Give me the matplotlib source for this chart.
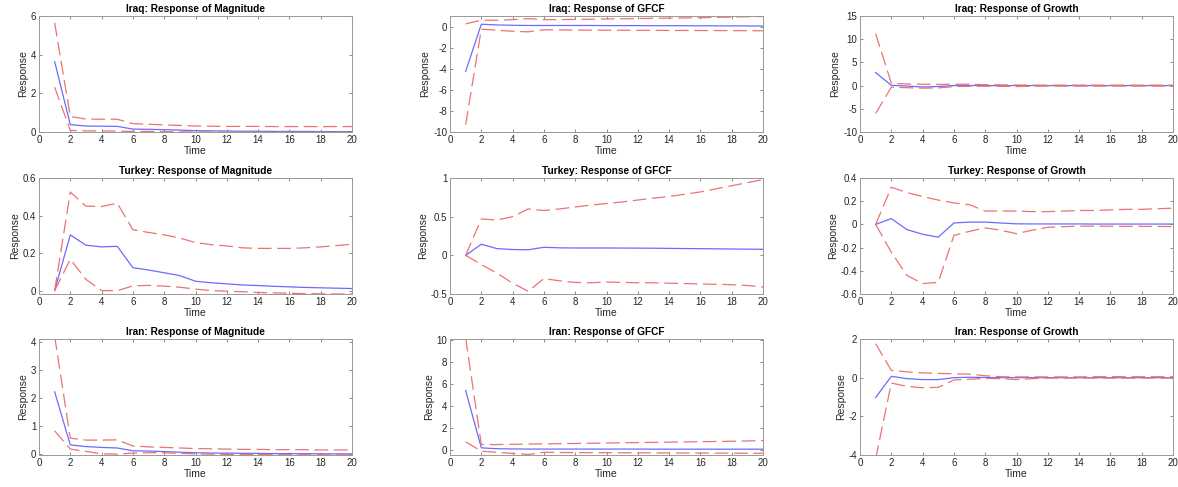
import numpy as np
import matplotlib
matplotlib.use("Agg")
import matplotlib.pyplot as plt
from matplotlib.ticker import FuncFormatter

plt.rcParams['font.family'] = ['Liberation Sans', 'DejaVu Sans']

t = np.arange(1, 21)

# Iraq
iraq_mag = [3.64, 0.38, 0.31, 0.30, 0.29, 0.15, 0.14, 0.12, 0.10, 0.07, 0.06, 0.05, 0.04, 0.04, 0.03, 0.03, 0.03, 0.02, 0.02, 0.02]
iraq_mag_hi = [5.65, 0.80, 0.67, 0.66, 0.66, 0.43, 0.40, 0.37, 0.34, 0.31, 0.30, 0.29, 0.29, 0.29, 0.28, 0.28, 0.28, 0.28, 0.28, 0.28]
iraq_mag_lo = [2.32, 0.08, 0.06, 0.05, 0.05, 0.03, 0.03, 0.02, 0.01, 0.0, 0.0, -0.01, -0.01, -0.01, -0.01, -0.01, -0.01, -0.01, -0.01, -0.01]

iraq_gfcf = [-4.26, 0.22, 0.15, 0.12, 0.10, 0.10, 0.10, 0.10, 0.10, 0.09, 0.09, 0.09, 0.08, 0.08, 0.08, 0.07, 0.07, 0.06, 0.06, 0.05]
iraq_gfcf_hi = [0.25, 0.60, 0.60, 0.65, 0.75, 0.65, 0.66, 0.68, 0.70, 0.72, 0.74, 0.76, 0.78, 0.80, 0.82, 0.84, 0.87, 0.90, 0.93, 0.95]
iraq_gfcf_lo = [-9.3, -0.25, -0.35, -0.45, -0.50, -0.30, -0.32, -0.33, -0.34, -0.35, -0.35, -0.36, -0.36, -0.37, -0.37, -0.38, -0.38, -0.39, -0.39, -0.40]

iraq_gro = [2.8, 0.05, -0.10, -0.30, -0.20, 0.0, 0.02, 0.01, 0.0, 0.0, 0.0, 0.0, 0.0, 0.0, 0.0, 0.0, 0.0, 0.0, 0.0, 0.0]
iraq_gro_hi = [11.2, 0.50, 0.35, 0.30, 0.25, 0.30, 0.30, 0.20, 0.15, 0.12, 0.10, 0.10, 0.10, 0.10, 0.10, 0.10, 0.10, 0.10, 0.10, 0.10]
iraq_gro_lo = [-6.0, -0.35, -0.45, -0.55, -0.50, -0.20, -0.15, -0.12, -0.15, -0.20, -0.15, -0.10, -0.10, -0.10, -0.10, -0.10, -0.10, -0.10, -0.10, -0.10]

# Turkey
tur_mag = [0.0, 0.297, 0.242, 0.233, 0.236, 0.122, 0.11, 0.095, 0.08, 0.05, 0.042, 0.036, 0.03, 0.027, 0.023, 0.02, 0.017, 0.015, 0.013, 0.011]
tur_mag_hi = [0.0, 0.525, 0.45, 0.448, 0.466, 0.324, 0.31, 0.297, 0.28, 0.256, 0.245, 0.238, 0.228, 0.225, 0.225, 0.225, 0.228, 0.233, 0.24, 0.247]
tur_mag_lo = [0.0, 0.167, 0.06, 0.0, 0.0, 0.025, 0.028, 0.024, 0.018, 0.008, 0.0, -0.003, -0.006, -0.01, -0.012, -0.014, -0.016, -0.017, -0.018, -0.018]

tur_gfcf = [0.0, 0.143, 0.087, 0.075, 0.072, 0.104, 0.097, 0.095, 0.095, 0.095, 0.094, 0.093, 0.092, 0.09, 0.088, 0.086, 0.084, 0.082, 0.08, 0.078]
tur_gfcf_hi = [0.0, 0.47, 0.456, 0.50, 0.60, 0.58, 0.60, 0.625, 0.65, 0.67, 0.69, 0.715, 0.74, 0.76, 0.79, 0.82, 0.86, 0.90, 0.94, 0.98]
tur_gfcf_lo = [0.0, -0.12, -0.23, -0.36, -0.465, -0.30, -0.33, -0.35, -0.355, -0.345, -0.35, -0.355, -0.355, -0.36, -0.365, -0.37, -0.375, -0.38, -0.39, -0.41]

tur_gro = [0.0, 0.05, -0.045, -0.085, -0.11, 0.012, 0.02, 0.02, 0.012, 0.005, 0.004, 0.004, 0.004, 0.004, 0.003, 0.003, 0.003, 0.003, 0.003, 0.003]
tur_gro_hi = [0.0, 0.32, 0.275, 0.24, 0.21, 0.185, 0.17, 0.115, 0.115, 0.115, 0.11, 0.11, 0.115, 0.12, 0.12, 0.125, 0.13, 0.13, 0.135, 0.14]
tur_gro_lo = [0.0, -0.24, -0.44, -0.51, -0.50, -0.095, -0.06, -0.03, -0.05, -0.08, -0.05, -0.025, -0.02, -0.015, -0.015, -0.016, -0.017, -0.017, -0.018, -0.018]

# Iran
iran_mag = [2.22, 0.33, 0.27, 0.24, 0.22, 0.12, 0.11, 0.09, 0.07, 0.05, 0.04, 0.035, 0.03, 0.025, 0.02, 0.018, 0.015, 0.012, 0.01, 0.01]
iran_mag_hi = [4.2, 0.57, 0.50, 0.50, 0.51, 0.29, 0.26, 0.24, 0.22, 0.20, 0.19, 0.18, 0.17, 0.17, 0.16, 0.16, 0.16, 0.15, 0.15, 0.15]
iran_mag_lo = [0.83, 0.18, 0.10, 0.01, 0.0, 0.04, 0.05, 0.05, 0.03, 0.01, 0.0, -0.01, -0.01, -0.01, -0.02, -0.02, -0.02, -0.02, -0.02, -0.02]

iran_gfcf = [5.42, 0.20, 0.12, 0.10, 0.09, 0.09, 0.09, 0.09, 0.09, 0.09, 0.09, 0.09, 0.08, 0.08, 0.08, 0.08, 0.08, 0.08, 0.08, 0.08]
iran_gfcf_hi = [10.2, 0.50, 0.50, 0.52, 0.55, 0.56, 0.58, 0.60, 0.62, 0.64, 0.66, 0.68, 0.70, 0.72, 0.74, 0.76, 0.78, 0.80, 0.83, 0.87]
iran_gfcf_lo = [0.75, -0.10, -0.20, -0.30, -0.40, -0.20, -0.22, -0.23, -0.24, -0.24, -0.25, -0.25, -0.26, -0.26, -0.27, -0.27, -0.28, -0.28, -0.29, -0.30]

iran_gro = [-1.03, 0.07, -0.05, -0.10, -0.10, 0.0, 0.02, 0.01, 0.0, 0.0, 0.0, 0.0, 0.0, 0.0, 0.0, 0.0, 0.0, 0.0, 0.0, 0.0]
iran_gro_hi = [1.76, 0.38, 0.30, 0.25, 0.22, 0.20, 0.18, 0.10, 0.05, 0.04, 0.04, 0.04, 0.04, 0.04, 0.05, 0.05, 0.05, 0.05, 0.05, 0.05]
iran_gro_lo = [-4.2, -0.28, -0.45, -0.52, -0.50, -0.12, -0.08, -0.04, -0.05, -0.10, -0.05, -0.02, -0.02, -0.02, -0.02, -0.02, -0.02, -0.02, -0.02, -0.02]

panels = [
    ("Iraq: Response of Magnitude", iraq_mag, iraq_mag_hi, iraq_mag_lo, (0, 6), [0, 2, 4, 6]),
    ("Iraq: Response of GFCF", iraq_gfcf, iraq_gfcf_hi, iraq_gfcf_lo, (-10, 1), [-10, -8, -6, -4, -2, 0]),
    ("Iraq: Response of Growth", iraq_gro, iraq_gro_hi, iraq_gro_lo, (-10, 15), [-10, -5, 0, 5, 10, 15]),
    ("Turkey: Response of Magnitude", tur_mag, tur_mag_hi, tur_mag_lo, (-0.018, 0.6), [0, 0.2, 0.4, 0.6]),
    ("Turkey: Response of GFCF", tur_gfcf, tur_gfcf_hi, tur_gfcf_lo, (-0.5, 1), [-0.5, 0, 0.5, 1]),
    ("Turkey: Response of Growth", tur_gro, tur_gro_hi, tur_gro_lo, (-0.6, 0.4), [-0.6, -0.4, -0.2, 0, 0.2, 0.4]),
    ("Iran: Response of Magnitude", iran_mag, iran_mag_hi, iran_mag_lo, (-0.03, 4.1), [0, 1, 2, 3, 4]),
    ("Iran: Response of GFCF", iran_gfcf, iran_gfcf_hi, iran_gfcf_lo, (-0.45, 10.1), [0, 2, 4, 6, 8, 10]),
    ("Iran: Response of Growth", iran_gro, iran_gro_hi, iran_gro_lo, (-4, 2), [-4, -2, 0, 2]),
]

W, H = 1178, 487
fig = plt.figure(figsize=(W / 100, H / 100), dpi=100)

col_left = [39, 450, 860]
row_top = [16, 178, 339]
aw, ah = 313, 116

fmt = FuncFormatter(lambda v, p: f"{v:g}".replace("\u2212", "-"))

blue = (0.42, 0.42, 1.0)
red = (0.92, 0.45, 0.45)

for k, (title, mid, hi, lo, ylim, yt) in enumerate(panels):
    r, c = divmod(k, 3)
    ax = fig.add_axes([col_left[c] / W, 1 - (row_top[r] + ah) / H, aw / W, ah / H])
    ax.plot(t, mid, color=blue, lw=0.9)
    ax.plot(t, hi, color=red, lw=0.9, ls=(0, (11, 4.5)))
    ax.plot(t, lo, color=red, lw=0.9, ls=(0, (11, 4.5)))
    ax.set_xlim(0, 20)
    ax.set_ylim(*ylim)
    ax.set_xticks(range(0, 21, 2))
    ax.set_yticks(yt)
    ax.xaxis.set_major_formatter(fmt)
    ax.yaxis.set_major_formatter(fmt)
    ax.tick_params(direction='in', top=True, right=True, length=2.5, width=0.6,
                   colors='#777777', labelcolor='#262626', labelsize=7, pad=2)
    for s in ax.spines.values():
        s.set_color('#999999')
        s.set_linewidth(0.7)
    ax.set_title(title, fontsize=7.3, fontweight='bold', pad=3)
    ax.set_xlabel("Time", fontsize=7.5, labelpad=1, color='#262626')
    ax.set_ylabel("Response", fontsize=7.5, labelpad=2, color='#262626')

fig.savefig("out.png", dpi=100)
